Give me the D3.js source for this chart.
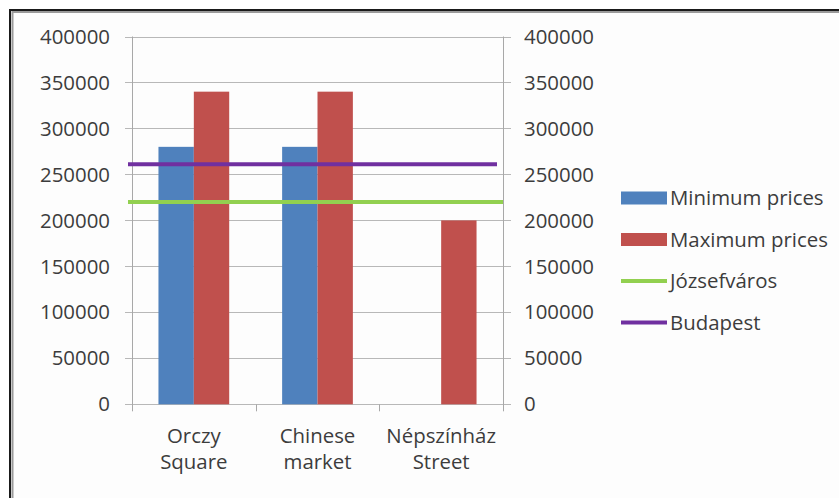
<!DOCTYPE html>
<html>
<head>
<meta charset="utf-8">
<style>
  body { margin: 0; background: #ffffff; }
  svg { display: block; font-family: "Open Sans", sans-serif; }
  .lbl { fill: #3c3c3c; font-size: 20.4px; }
</style>
</head>
<body>
<div id="chart"></div>
<script src="https://d3js.org/d3.v7.min.js"></script>
<script>
// chart values
var categories = [["Orczy", "Square"], ["Chinese", "market"], ["Népszínház", "Street"]];
var minPrices = [280000, 280000, 0];
var maxPrices = [340000, 340000, 200000];
var jozsefvaros = [220000, 220000, 220000];
var budapest = [261000, 261000, 261000];
var yTicks = [0, 50000, 100000, 150000, 200000, 250000, 300000, 350000, 400000];
var legendNames = ["Minimum prices", "Maximum prices", "Józsefváros", "Budapest"];

var blue = "#4f81bd", red = "#c0504d", green = "#92d050", purple = "#7030a0";

var W = 839, H = 498;
var svg = d3.select("#chart").append("svg").attr("width", W).attr("height", H);

// frame
svg.append("rect").attr("x", 10).attr("y", 10).attr("width", 900).attr("height", 600)
  .attr("fill", "#fdfdfd").attr("stroke", "#1a1a1a").attr("stroke-width", 2);
svg.append("rect").attr("x", 12.5).attr("y", 12).attr("width", 900).attr("height", 600)
  .attr("fill", "none").attr("stroke", "#9a9a9a").attr("stroke-width", 2);

var plotL = 132, plotR = 503, plotT = 36.5, plotB = 404.3;

var y = d3.scaleLinear().domain([0, 400000]).range([plotB, plotT]);
var keys = categories.map(function(c){ return c.join(" "); });
var x0 = d3.scaleBand().domain(keys).range([plotL, plotR]).paddingInner(0.428).paddingOuter(0.214);
var x1 = d3.scaleBand().domain(["min", "max"]).range([0, x0.bandwidth()]);

// gridlines (with ticks on both sides)
svg.append("g").selectAll("line").data(yTicks).enter().append("line")
  .attr("x1", plotL - 7).attr("x2", plotR + 8)
  .attr("y1", function(d){ return Math.round(y(d)) + 0.5; })
  .attr("y2", function(d){ return Math.round(y(d)) + 0.5; })
  .attr("stroke", "#b8b8b8").attr("stroke-width", 1);

// axis lines
svg.append("line").attr("x1", plotL + 0.5).attr("x2", plotL + 0.5).attr("y1", plotT).attr("y2", plotB + 7)
  .attr("stroke", "#a8a8a8");
svg.append("line").attr("x1", plotR + 0.5).attr("x2", plotR + 0.5).attr("y1", plotT).attr("y2", plotB + 7)
  .attr("stroke", "#a8a8a8");

// category tick marks
var step = x0.step();
svg.append("g").selectAll("line").data(keys.slice(1)).enter().append("line")
  .attr("x1", function(d){ return Math.round(x0(d) - step * x0.paddingInner() / 2) + 0.5; })
  .attr("x2", function(d){ return Math.round(x0(d) - step * x0.paddingInner() / 2) + 0.5; })
  .attr("y1", plotB).attr("y2", plotB + 7)
  .attr("stroke", "#a8a8a8");

// bars
var groups = svg.append("g").selectAll("g").data(keys).enter().append("g")
  .attr("transform", function(d){ return "translate(" + x0(d) + ",0)"; });
groups.append("rect")
  .attr("x", x1("min")).attr("width", x1.bandwidth())
  .attr("y", function(d, i){ return y(minPrices[i]); })
  .attr("height", function(d, i){ return y(0) - y(minPrices[i]); })
  .attr("fill", blue);
groups.append("rect")
  .attr("x", x1("max")).attr("width", x1.bandwidth())
  .attr("y", function(d, i){ return y(maxPrices[i]); })
  .attr("height", function(d, i){ return y(0) - y(maxPrices[i]); })
  .attr("fill", red);

// horizontal reference lines
function refLine(vals, color, endInset){
  var pts = vals.map(function(v, i){
    var xx = x0(keys[i]) + x0.bandwidth() / 2;
    if (i === 0) xx = plotL - 4;
    if (i === vals.length - 1) xx = plotR - endInset;
    return [xx, y(v)];
  });
  svg.append("path").attr("d", d3.line()(pts))
    .attr("fill", "none").attr("stroke", color).attr("stroke-width", 4);
}
refLine(jozsefvaros, green, 0);
refLine(budapest, purple, 6);

// left axis labels
svg.append("g").selectAll("text").data(yTicks).enter().append("text")
  .attr("class", "lbl").attr("x", 110).attr("y", function(d){ return y(d); })
  .attr("dy", "0.35em").attr("text-anchor", "end")
  .text(function(d){ return d; });

// right axis labels
svg.append("g").selectAll("text").data(yTicks).enter().append("text")
  .attr("class", "lbl").attr("x", 524).attr("y", function(d){ return y(d); })
  .attr("dy", "0.35em").attr("text-anchor", "start")
  .text(function(d){ return d; });

// category labels
var cl = svg.append("g").selectAll("text").data(categories).enter().append("text")
  .attr("class", "lbl").attr("text-anchor", "middle")
  .attr("x", function(d, i){ return x0(keys[i]) + x0.bandwidth() / 2; })
  .attr("y", 443);
cl.append("tspan").text(function(d){ return d[0]; });
cl.append("tspan").attr("dy", 26)
  .attr("x", function(d, i){ return x0(keys[i]) + x0.bandwidth() / 2; })
  .text(function(d){ return d[1]; });

// legend
var leg = svg.append("g").selectAll("g").data(legendNames).enter().append("g")
  .attr("transform", function(d, i){ return "translate(621," + (198 + i * 41.5) + ")"; });
leg.each(function(d, i){
  var g = d3.select(this);
  if (i < 2) {
    g.append("rect").attr("x", 0).attr("y", -6.5).attr("width", 46).attr("height", 13)
      .attr("fill", i === 0 ? blue : red);
  } else {
    g.append("line").attr("x1", 0).attr("x2", 46).attr("y1", 0).attr("y2", 0)
      .attr("stroke", i === 2 ? green : purple).attr("stroke-width", 4);
  }
  g.append("text").attr("class", "lbl").attr("x", 49).attr("dy", "0.35em").text(d);
});
</script>
</body>
</html>
